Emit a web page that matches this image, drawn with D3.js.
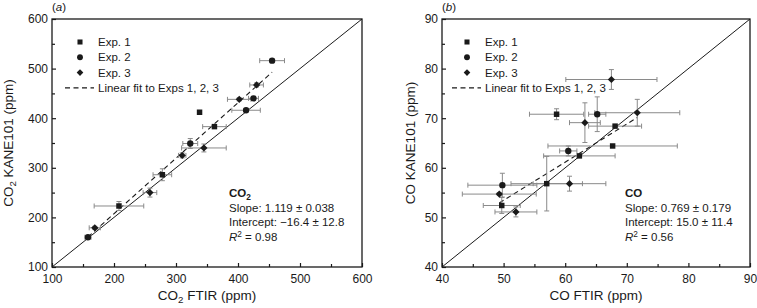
<!DOCTYPE html>
<html>
<head>
<meta charset="utf-8">
<script src="https://cdn.jsdelivr.net/npm/d3@7"></script>
<style>
body { margin: 0; background: #fff; }
svg text { font-family: "Liberation Sans", Arial, sans-serif; fill: #1a1a1a; }
</style>
</head>
<body>
<svg id="chart" width="757" height="308"></svg>
<script>
"use strict";

// [x, y, xErr, yErr]
var co2Exp1 = [[338, 412, 0, 0], [362, 383, 19, 0], [278, 286, 15, 12], [208, 223, 40, 9]];
var co2Exp2 = [[455, 516, 20, 3], [425, 440, 8, 4], [413, 416, 23, 3], [323, 349, 12, 10], [158, 160, 5, 3]];
var co2Exp3 = [[430, 467, 11, 4], [402, 438, 19, 3], [345, 340, 36, 8], [310, 325, 6, 5], [258, 250, 11, 9], [169, 179, 9, 3]];

var coExp1 = [[58.6, 70.8, 4.4, 1.1], [68.1, 68.4, 4.3, 0], [67.7, 64.4, 10.5, 0], [62.3, 62.4, 5.8, 0], [57.0, 56.8, 5.8, 5.5], [49.7, 52.4, 3, 1.6]];
var coExp2 = [[65.2, 70.8, 1.4, 3.5], [60.5, 63.4, 1.4, 1], [49.8, 56.5, 5.6, 2.4]];
var coExp3 = [[67.5, 77.8, 7.4, 2], [71.7, 71.1, 6.9, 2.7], [63.2, 69.1, 2.5, 4], [60.7, 56.8, 5.9, 1.5], [49.3, 54.7, 6, 0.3], [52.0, 51.1, 3.4, 1]];

var co2Ticks = [100, 200, 300, 400, 500, 600];
var co2Minor = [150, 250, 350, 450, 550];
var coTicks = [40, 50, 60, 70, 80, 90];
var coMinor = [45, 55, 65, 75, 85];

// slope, intercept
var co2Fit = [1.119, -16.4];
var coFit = [0.769, 15.0];

var legendLabels = ["Exp. 1", "Exp. 2", "Exp. 3", "Linear fit to Exps 1, 2, 3"];
var co2Stats = ["Slope: 1.119 \u00b1 0.038", "Intercept: \u221216.4 \u00b1 12.8", "0.98"];
var coStats = ["Slope: 0.769 \u00b1 0.179", "Intercept: 15.0 \u00b1 11.4", "0.56"];

var svg = d3.select("#chart");
var ink = "#1a1a1a";
var errColor = "#8a8a8a";
// diamond = square turned 45 degrees
var shapes = [d3.symbolSquare, d3.symbolCircle, d3.symbolSquare];
var shapeSizes = [30, 32, 26];
var shapeTurn = [0, 0, 45];

// text with a subscript "2" after "CO"
function coText(sel, withSub, rest) {
	sel.append("tspan").text("CO");
	if (withSub) {
		sel.append("tspan").attr("dy", 3).attr("font-size", "0.72em").text("2");
		sel.append("tspan").attr("dy", -3).text(rest);
	} else {
		sel.append("tspan").text(rest);
	}
}

function drawPanel(cfg) {
	var x = d3.scaleLinear().domain(cfg.domain).range([cfg.left, cfg.right]);
	var y = d3.scaleLinear().domain(cfg.domain).range([cfg.bottom, cfg.top]);
	var g = svg.append("g");

	// axes (ticks pointing inward)
	g.append("g")
		.attr("transform", "translate(0," + cfg.bottom + ")")
		.call(d3.axisBottom(x).tickValues(cfg.ticks).tickSizeInner(-4).tickSizeOuter(0).tickPadding(7));
	g.append("g")
		.attr("transform", "translate(0," + cfg.bottom + ")")
		.call(d3.axisBottom(x).tickValues(cfg.minor).tickSizeInner(-3).tickSizeOuter(0).tickFormat(""));
	g.append("g")
		.attr("transform", "translate(" + cfg.left + ",0)")
		.call(d3.axisLeft(y).tickValues(cfg.ticks).tickSizeInner(-4).tickSizeOuter(0).tickPadding(4));
	g.append("g")
		.attr("transform", "translate(" + cfg.left + ",0)")
		.call(d3.axisLeft(y).tickValues(cfg.minor).tickSizeInner(-3).tickSizeOuter(0).tickFormat(""));
	g.selectAll(".domain").remove();
	g.selectAll(".tick line").attr("stroke", ink).attr("stroke-width", 1.2);
	g.selectAll(".tick text").attr("font-size", 12).attr("fill", ink)
		.style("font-family", "'Liberation Sans', Arial, sans-serif");

	// frame
	g.append("rect")
		.attr("x", cfg.left).attr("y", cfg.top)
		.attr("width", cfg.right - cfg.left).attr("height", cfg.bottom - cfg.top)
		.attr("fill", "none").attr("stroke", ink).attr("stroke-width", 1.3);

	// 1:1 line
	g.append("line")
		.attr("x1", x(cfg.domain[0])).attr("y1", y(cfg.domain[0]))
		.attr("x2", x(cfg.domain[1])).attr("y2", y(cfg.domain[1]))
		.attr("stroke", ink).attr("stroke-width", 1);

	// linear fit over data range
	var all = cfg.series[0].concat(cfg.series[1], cfg.series[2]);
	var xr = d3.extent(all, function(d) { return d[0]; });
	g.append("line")
		.attr("x1", x(xr[0])).attr("y1", y(cfg.fit[0] * xr[0] + cfg.fit[1]))
		.attr("x2", x(xr[1])).attr("y2", y(cfg.fit[0] * xr[1] + cfg.fit[1]))
		.attr("stroke", ink).attr("stroke-width", 1.1).attr("stroke-dasharray", "5,3.5");

	// error bars
	var eb = g.append("g").attr("stroke", errColor).attr("stroke-width", 1);
	all.forEach(function(d) {
		var cx = x(d[0]), cy = y(d[1]);
		if (d[2] > 0) {
			var x0 = x(d[0] - d[2]), x1 = x(d[0] + d[2]);
			eb.append("line").attr("x1", x0).attr("x2", x1).attr("y1", cy).attr("y2", cy);
			eb.append("line").attr("x1", x0).attr("x2", x0).attr("y1", cy - 2.5).attr("y2", cy + 2.5);
			eb.append("line").attr("x1", x1).attr("x2", x1).attr("y1", cy - 2.5).attr("y2", cy + 2.5);
		}
		if (d[3] > 0) {
			var y0 = y(d[1] - d[3]), y1 = y(d[1] + d[3]);
			eb.append("line").attr("x1", cx).attr("x2", cx).attr("y1", y0).attr("y2", y1);
			eb.append("line").attr("x1", cx - 2.5).attr("x2", cx + 2.5).attr("y1", y0).attr("y2", y0);
			eb.append("line").attr("x1", cx - 2.5).attr("x2", cx + 2.5).attr("y1", y1).attr("y2", y1);
		}
	});

	// markers
	cfg.series.forEach(function(s, i) {
		g.selectAll(".m" + i).data(s).enter().append("path")
			.attr("class", "m" + i)
			.attr("d", d3.symbol().type(shapes[i]).size(shapeSizes[i]))
			.attr("transform", function(d) {
				return "translate(" + x(d[0]) + "," + y(d[1]) + ") rotate(" + shapeTurn[i] + ")";
			})
			.attr("fill", ink);
	});

	// legend
	var lx = cfg.left + cfg.legendDx;
	var lg = g.append("g");
	legendLabels.forEach(function(t, i) {
		var ly = 42 + i * 15.3;
		if (i < 3) {
			lg.append("path")
				.attr("d", d3.symbol().type(shapes[i]).size(shapeSizes[i] * 0.85))
				.attr("transform", "translate(" + (lx + 15) + "," + ly + ") rotate(" + shapeTurn[i] + ")")
				.attr("fill", ink);
		} else {
			lg.append("line")
				.attr("x1", lx).attr("x2", lx + 29)
				.attr("y1", ly).attr("y2", ly)
				.attr("stroke", ink).attr("stroke-width", 1.1).attr("stroke-dasharray", "5,3.5");
		}
		lg.append("text")
			.attr("x", lx + 33).attr("y", ly + 4)
			.attr("font-size", 11.5)
			.text(t);
	});

	// stats block
	var sx = cfg.statsX;
	var st = g.append("g").attr("font-size", 11.5);
	var head = st.append("text").attr("x", sx).attr("y", 197).attr("font-weight", "bold");
	coText(head, cfg.sub, "");
	st.append("text").attr("x", sx).attr("y", 211.5).text(cfg.stats[0]);
	st.append("text").attr("x", sx).attr("y", 226).text(cfg.stats[1]);
	var r2 = st.append("text").attr("x", sx).attr("y", 240.5);
	r2.append("tspan").attr("font-style", "italic").text("R");
	r2.append("tspan").attr("dy", -4).attr("font-size", "0.72em").text("2");
	r2.append("tspan").attr("dy", 4).text(" = " + cfg.stats[2]);

	// axis titles
	var xt = g.append("text")
		.attr("x", (cfg.left + cfg.right) / 2).attr("y", 300)
		.attr("text-anchor", "middle").attr("font-size", 13.5);
	coText(xt, cfg.sub, " FTIR (ppm)");
	var yt = g.append("text")
		.attr("transform", "translate(" + cfg.yTitleX + "," + ((cfg.top + cfg.bottom) / 2) + ") rotate(-90)")
		.attr("text-anchor", "middle").attr("font-size", 13.5);
	coText(yt, cfg.sub, " KANE101 (ppm)");

	// panel label
	var pl = g.append("text").attr("x", cfg.left).attr("y", 11).attr("font-size", 11.5);
	pl.append("tspan").text("(");
	pl.append("tspan").attr("font-style", "italic").text(cfg.label);
	pl.append("tspan").text(")");
}

drawPanel({
	domain: [100, 600], ticks: co2Ticks, minor: co2Minor,
	left: 52, right: 362, top: 19, bottom: 267,
	series: [co2Exp1, co2Exp2, co2Exp3], fit: co2Fit, stats: co2Stats,
	sub: true, legendDx: 13, statsX: 229, yTitleX: 13, label: "a"
});

drawPanel({
	domain: [40, 90], ticks: coTicks, minor: coMinor,
	left: 442, right: 750, top: 19, bottom: 267,
	series: [coExp1, coExp2, coExp3], fit: coFit, stats: coStats,
	sub: false, legendDx: 10, statsX: 625, yTitleX: 415, label: "b"
});
</script>
</body>
</html>
